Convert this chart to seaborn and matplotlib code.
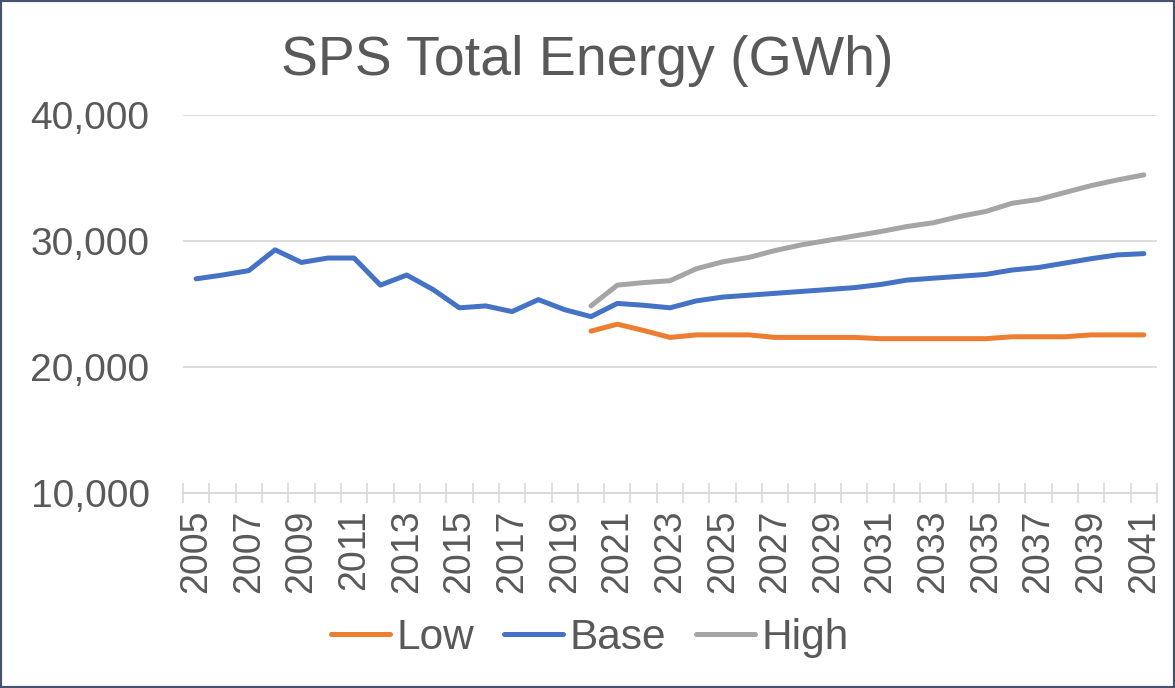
import numpy as np
import pandas as pd
import matplotlib.pyplot as plt
import seaborn as sns
from matplotlib.ticker import FuncFormatter
from matplotlib.patches import Rectangle

# values (GWh)
years = list(range(2005, 2042))
base = [27000, 27300, 27650, 29300, 28300, 28650, 28650, 26500, 27300, 26150,
        24700, 24850, 24400, 25350, 24550, 24000, 25050, 24900, 24700, 25250,
        25550, 25700, 25850, 26000, 26150, 26300, 26550, 26900, 27050, 27200,
        27350, 27700, 27900, 28250, 28600, 28900, 29000]
fc_years = list(range(2020, 2042))
low = [22850, 23400, 22900, 22350, 22550, 22550, 22550, 22350, 22350, 22350,
       22350, 22250, 22250, 22250, 22250, 22250, 22400, 22400, 22400, 22550,
       22550, 22550]
high = [24850, 26500, 26700, 26850, 27800, 28350, 28700, 29250, 29700, 30050,
        30400, 30750, 31150, 31450, 31950, 32350, 33000, 33300, 33850, 34400,
        34850, 35250]

cases = ['Low', 'Base', 'High']
colors = ['#ED7D31', '#4472C4', '#A5A5A5']

df = pd.concat([
    pd.DataFrame({'year': fc_years, 'gwh': low, 'case': 'Low'}),
    pd.DataFrame({'year': years, 'gwh': base, 'case': 'Base'}),
    pd.DataFrame({'year': fc_years, 'gwh': high, 'case': 'High'}),
], ignore_index=True)

sns.set_theme(style='white')
plt.rcParams['font.family'] = ['Liberation Sans', 'DejaVu Sans']
plt.rcParams['lines.solid_capstyle'] = 'round'
plt.rcParams['lines.solid_joinstyle'] = 'round'
text_col = '#595959'
grid_col = '#D9D9D9'

fig = plt.figure(figsize=(11.75, 6.88), dpi=100)
ax = fig.add_axes([0.1557, 0.2834, 0.829, 0.5494])

sns.lineplot(data=df, x='year', y='gwh', hue='case', hue_order=cases,
             palette=colors, linewidth=3.6, ax=ax)

handles, labels = ax.get_legend_handles_labels()
ax.get_legend().remove()
fig.legend(handles, labels, loc='center', bbox_to_anchor=(0.502, 0.0727),
           ncol=3, frameon=False, fontsize=30.5, handlelength=1.4,
           handletextpad=0.15, columnspacing=0.7, labelcolor=text_col)

ax.set_xlim(2004.5, 2041.5)
ax.set_ylim(10000, 40000)
ax.set_yticks([10000, 20000, 30000, 40000])
ax.yaxis.set_major_formatter(FuncFormatter(lambda v, p: f'{v:,.0f}'))
ax.set_xticks(years[::2])
ax.set_xticklabels([str(y) for y in years[::2]], rotation=90)
ax.set_xticks(np.arange(2004.5, 2042, 1), minor=True)
ax.tick_params(axis='x', which='both', bottom=True)
ax.tick_params(axis='x', which='major', length=0, pad=12, labelsize=27,
               labelcolor=text_col)
ax.tick_params(axis='x', which='minor', length=15, width=1.2,
               direction='inout', color=grid_col)
ax.tick_params(axis='y', length=0, pad=24, labelsize=28, labelcolor=text_col)
ax.yaxis.grid(True, color=grid_col, linewidth=1.3)
ax.set_axisbelow(True)
ax.set_xlabel('')
ax.set_ylabel('')

for s in ['top', 'right', 'left']:
    ax.spines[s].set_visible(False)
ax.spines['bottom'].set_color(grid_col)
ax.spines['bottom'].set_linewidth(1.3)

fig.text(0.5, 1 - 75 / 688, 'SPS Total Energy (GWh)', ha='center',
         va='baseline', fontsize=40, color=text_col)

fig.patches.append(Rectangle((0, 0), 1, 1, transform=fig.transFigure,
                             fill=False, edgecolor='#44546A', linewidth=3))

fig.savefig('out.png', dpi=100)
